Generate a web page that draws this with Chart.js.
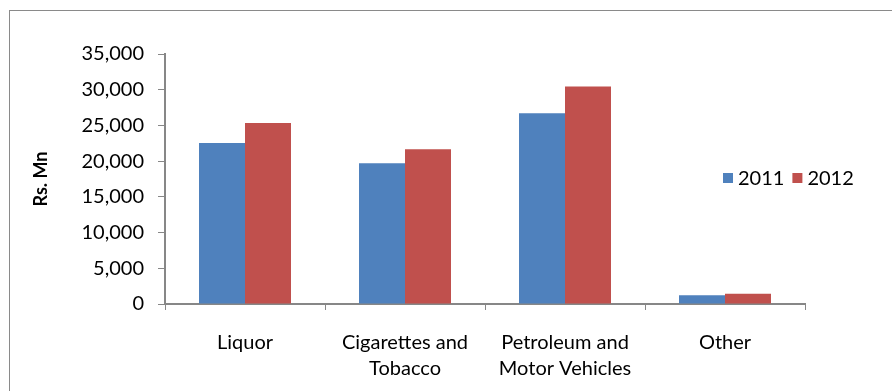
<!DOCTYPE html>
<html>
<head>
<meta charset="utf-8">
<script src="https://cdn.jsdelivr.net/npm/chart.js@4.4.1/dist/chart.umd.min.js"></script>
<style>
  html, body { margin: 0; padding: 0; background: #ffffff; }
  #wrap { position: relative; width: 892px; height: 391px; overflow: hidden; }
  #frame { position: absolute; left: 9px; top: 10px; width: 1000px; height: 1000px;
           border-left: 1px solid #8a8a8a; border-top: 1px solid #8a8a8a; }
  canvas { position: absolute; left: 0; top: 0; }
</style>
</head>
<body>
<div id="wrap">
  <div id="frame"></div>
  <canvas id="chart" width="892" height="391"></canvas>
</div>
<script>
// Excise revenue by commodity group (Rs. Mn)
const categories = [
  'Liquor',
  ['Cigarettes and', 'Tobacco'],
  ['Petroleum and', 'Motor Vehicles'],
  'Other'
];
const years = ['2011', '2012'];
const values2011 = [22550, 19700, 26700, 1220];
const values2012 = [25350, 21650, 30450, 1450];
const yTicks = [0, 5000, 10000, 15000, 20000, 25000, 30000, 35000];

const FONT = 'Lato, "Open Sans", sans-serif';
const AXIS_GREY = '#878787';

// Horizontal legend drawn to the right of the plot
const inlineLegend = {
  id: 'inlineLegend',
  afterDraw(chart) {
    const ctx = chart.ctx;
    ctx.save();
    ctx.font = '20px ' + FONT;
    ctx.textBaseline = 'middle';
    ctx.textAlign = 'left';
    let x = 723;
    const y = 178;
    chart.data.datasets.forEach(ds => {
      ctx.fillStyle = ds.backgroundColor;
      ctx.fillRect(x, y - 5, 10, 10);
      x += 15;
      ctx.fillStyle = '#000000';
      ctx.fillText(ds.label, x, y + 1);
      x += ctx.measureText(ds.label).width + 8;
    });
    ctx.restore();
  }
};

new Chart(document.getElementById('chart'), {
  type: 'bar',
  data: {
    labels: categories,
    datasets: [
      { label: years[0], data: values2011, backgroundColor: '#4F81BD',
        categoryPercentage: 0.575, barPercentage: 1.0 },
      { label: years[1], data: values2012, backgroundColor: '#C0504D',
        categoryPercentage: 0.575, barPercentage: 1.0 }
    ]
  },
  options: {
    responsive: false,
    animation: false,
    layout: { padding: { left: 30, top: 54, right: 87, bottom: 0 } },
    plugins: {
      legend: { display: false },
      tooltip: { enabled: false }
    },
    scales: {
      x: {
        grid: { offset: true, drawOnChartArea: false, drawTicks: true,
                tickLength: 6, color: AXIS_GREY, lineWidth: 1 },
        border: { display: true, color: AXIS_GREY, width: 2 },
        ticks: { color: '#000000', font: { family: FONT, size: 20, lineHeight: 1.3 },
                 padding: 20, maxRotation: 0, autoSkip: false },
        afterFit(scale) { scale.height = 87; }
      },
      y: {
        min: 0,
        max: 35000,
        afterBuildTicks(scale) { scale.ticks = yTicks.map(v => ({ value: v })); },
        grid: { drawOnChartArea: false, drawTicks: true, tickLength: 7,
                color: AXIS_GREY, lineWidth: 1 },
        border: { display: true, color: AXIS_GREY, width: 2 },
        ticks: {
          color: '#000000', font: { family: FONT, size: 20 }, padding: 14,
          callback: v => Number(v).toLocaleString('en-US')
        },
        title: {
          display: true, text: 'Rs. Mn', color: '#000000',
          font: { family: FONT, size: 18, weight: 'bold' },
          padding: { top: 0, bottom: 0 }
        },
        afterFit(scale) { scale.width = 135; }
      }
    }
  },
  plugins: [inlineLegend]
});
</script>
</body>
</html>
